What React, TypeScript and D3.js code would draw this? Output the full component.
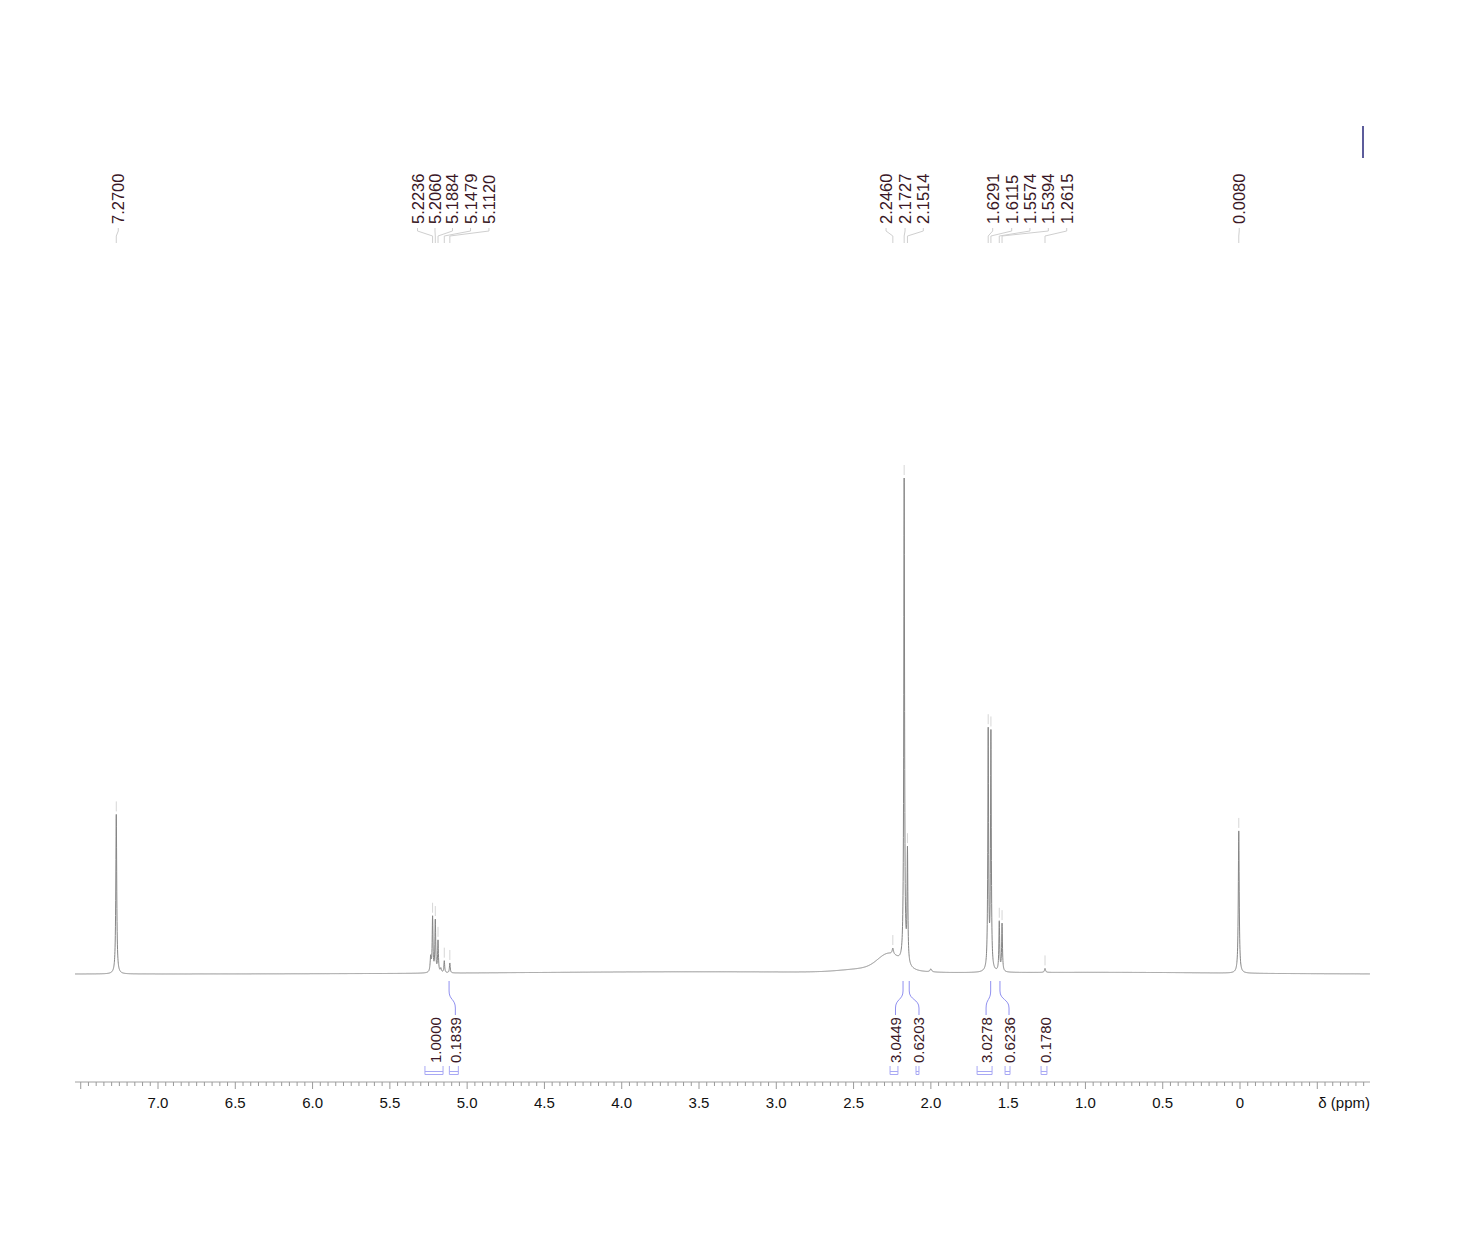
import React from 'react';
import * as d3 from 'd3';

// ---- spectrum data (ppm, relative height, half-width in ppm) ----
const peakPpm = [7.27, 5.236, 5.2236, 5.206, 5.1884, 5.17, 5.1479, 5.112, 2.246, 2.1727, 2.1514, 2.0, 1.6291, 1.6115, 1.5574, 1.5394, 1.2615, 0.008];
const peakHeight = [32.3, 3.0, 11.0, 10.4, 6.3, 0.8, 2.4, 2.0, 1.2, 98, 22.5, 0.6, 48.3, 47.8, 10.0, 9.6, 0.8, 28.8];
const peakHalfWidth = [0.0035, 0.004, 0.003, 0.003, 0.003, 0.004, 0.003, 0.003, 0.005, 0.003, 0.003, 0.006, 0.003, 0.003, 0.003, 0.003, 0.004, 0.0035];

// broad baseline features (ppm centre, height, sigma in ppm)
const broadPpm = [2.27, 2.36, 3.5, 0.8];
const broadHeight = [3.0, 0.9, 0.45, 0.3];
const broadSigma = [0.07, 0.18, 1.2, 0.7];

// ---- peak picking labels ----
const pickedPpm = [7.27, 5.2236, 5.206, 5.1884, 5.1479, 5.112, 2.246, 2.1727, 2.1514, 1.6291, 1.6115, 1.5574, 1.5394, 1.2615, 0.008];
const pickedLabelPpm = [7.257, 5.321, 5.208, 5.095, 4.978, 4.859, 2.29, 2.167, 2.049, 1.6, 1.477, 1.359, 1.24, 1.121, 0.005];

// ---- integrals ----
const integralValue = [1.0, 0.1839, 3.0449, 0.6203, 3.0278, 0.6236, 0.178];
const integralFrom = [5.273, 5.115, 2.264, 2.096, 1.701, 1.52, 1.287];
const integralTo = [5.156, 5.057, 2.213, 2.077, 1.604, 1.488, 1.249];
const integralCurvePpm = [NaN, 5.117, 2.18, 2.14, 1.613, 1.553, NaN];

// ---- axis ----
const axisMajorLabels = [7.0, 6.5, 6.0, 5.5, 5.0, 4.5, 4.0, 3.5, 3.0, 2.5, 2.0, 1.5, 1.0, 0.5, 0];
const axisTitle = 'δ (ppm)';

const FONT = '"Liberation Sans", Arial, Helvetica, sans-serif';

function intensity(p: number): number {
  let v = 0;
  for (let i = 0; i < peakPpm.length; i++) {
    const d = p - peakPpm[i];
    const g = peakHalfWidth[i];
    v += (peakHeight[i] * g * g) / (d * d + g * g);
  }
  for (let i = 0; i < broadPpm.length; i++) {
    const d = p - broadPpm[i];
    v += broadHeight[i] * Math.exp(-(d * d) / (2 * broadSigma[i] * broadSigma[i]));
  }
  return v;
}

export default function App() {
  const W = 1465;
  const H = 1240;
  const x = d3.scaleLinear().domain([7.537, -0.841]).range([75, 1370]);
  const y = d3.scaleLinear().domain([0, 100]).range([974, 480]);

  const samples = d3.range(7.537, -0.841, -0.0008).concat(peakPpm).sort((a, b) => b - a);
  const line = d3
    .line<number>()
    .x((p) => x(p))
    .y((p) => y(intensity(p)));
  const specPath = line(samples) || '';

  const tickIdx = d3.range(-16, 151);
  const axisY = 1082;

  const labelColor = '#3a1826';
  const integColor = '#9090f0';

  return (
    <svg
      width={W}
      height={H}
      style={{ position: 'absolute', left: 0, top: 0, background: '#fff' }}
      fontFamily={FONT}
    >
      <rect x={0} y={0} width={W} height={H} fill="#fff" />

      {/* integral scale marker */}
      <line x1={1363} x2={1363} y1={126} y2={158} stroke="#26267a" strokeWidth={1.5} />

      {/* spectrum */}
      <path d={specPath} fill="none" stroke="#858585" strokeWidth={1} />

      {/* peak picking */}
      {pickedPpm.map((p, i) => {
        const px = x(p);
        const lx = x(pickedLabelPpm[i]);
        const top = y(intensity(p));
        return (
          <g key={'pk' + i}>
            <path
              d={`M${lx},228 L${lx},231 L${px},236 L${px},243`}
              fill="none"
              stroke="#cfcfcf"
              strokeWidth={1}
            />
            <line x1={px} x2={px} y1={top - 3} y2={top - 13} stroke="#d6d6d6" strokeWidth={1} />
            <text
              transform={`translate(${lx + 6},224) rotate(-90)`}
              fontSize={16.5}
              fill={labelColor}
              textAnchor="start"
            >
              {p.toFixed(4)}
            </text>
          </g>
        );
      })}

      {/* integrals */}
      {integralValue.map((v, i) => {
        const x1 = x(integralFrom[i]);
        const x2 = x(integralTo[i]);
        const cx = (x1 + x2) / 2 + 1.5;
        const cp = integralCurvePpm[i];
        return (
          <g key={'int' + i}>
            {!isNaN(cp) && (
              <path
                d={`M${x(cp)},981 L${x(cp)},991 C${x(cp)},1000 ${cx},999 ${cx},1008 L${cx},1015`}
                fill="none"
                stroke={integColor}
                strokeWidth={1}
              />
            )}
            <path
              d={`M${x1},1066 L${x1},1074.5 L${x2},1074.5 L${x2},1066 M${x1},1071.5 L${x2},1071.5`}
              fill="none"
              stroke="#a8a8f4"
              strokeWidth={1}
            />
            <text
              transform={`translate(${cx + 5.5},1063) rotate(-90)`}
              fontSize={15}
              fill={labelColor}
              textAnchor="start"
            >
              {v.toFixed(4)}
            </text>
          </g>
        );
      })}

      {/* axis */}
      <line x1={75} x2={1370} y1={axisY} y2={axisY} stroke="#a0a0a0" strokeWidth={1} />
      {tickIdx.map((i) => {
        const p = i * 0.05;
        const major = i % 10 === 0;
        return (
          <line
            key={'t' + i}
            x1={x(p)}
            x2={x(p)}
            y1={axisY}
            y2={axisY + (major ? 7 : 4)}
            stroke="#9a9a9a"
            strokeWidth={1}
          />
        );
      })}
      {axisMajorLabels.map((p) => (
        <text
          key={'l' + p}
          x={x(p)}
          y={1108}
          fontSize={15}
          textAnchor="middle"
          fill="#111"
        >
          {p === 0 ? '0' : p.toFixed(1)}
        </text>
      ))}
      <text x={1370} y={1108} fontSize={15} textAnchor="end" fill="#111">
        {axisTitle}
      </text>
    </svg>
  );
}
